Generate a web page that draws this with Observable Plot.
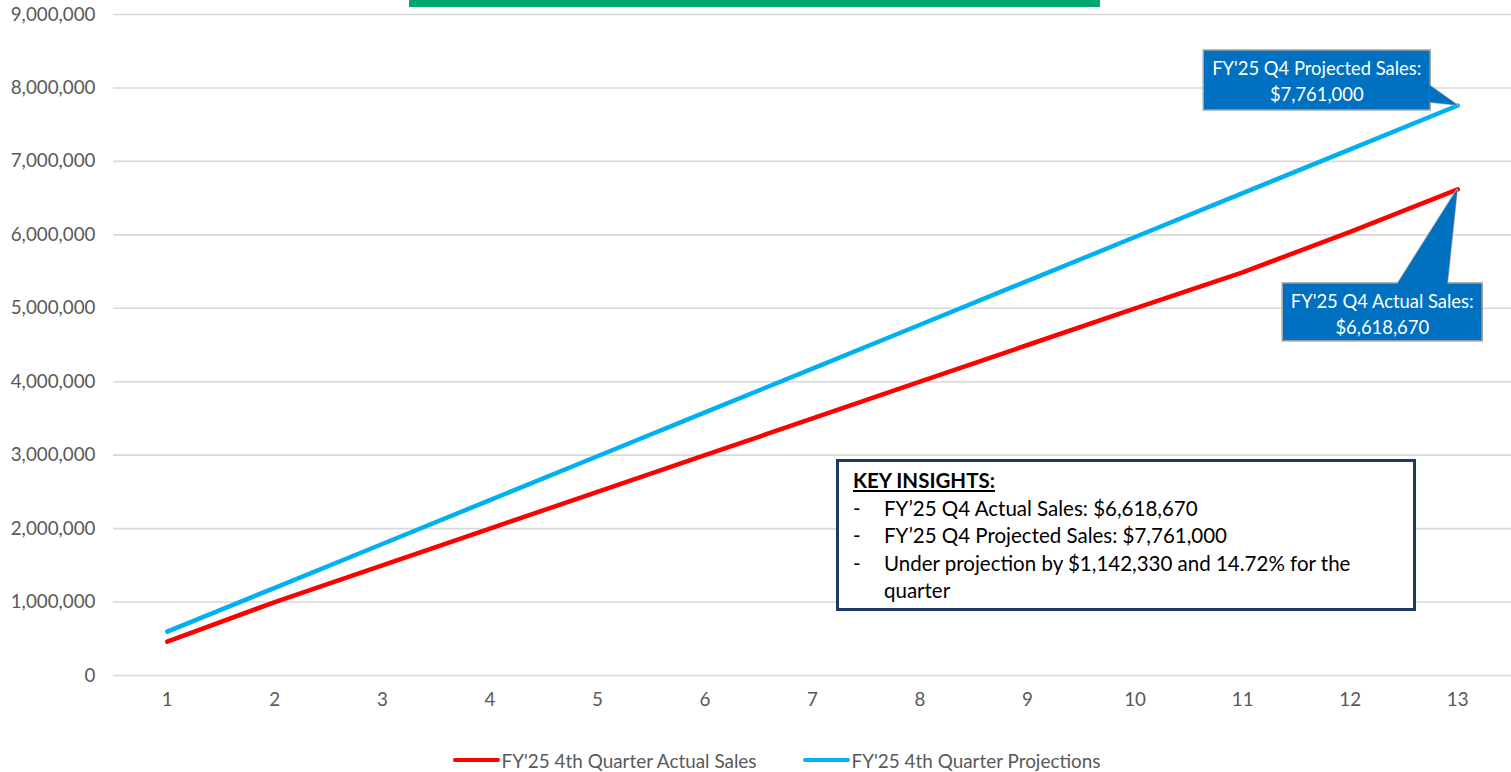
<!DOCTYPE html>
<html><head><meta charset="utf-8">
<script src="https://cdn.jsdelivr.net/npm/d3@7"></script>
<script src="https://cdn.jsdelivr.net/npm/@observablehq/plot@0.6"></script>
<style>
body{margin:0;background:#fff;font-family:Lato,"Open Sans",sans-serif;}
#wrap{position:relative;width:1511px;height:772px;overflow:hidden;background:#fff;}
#titlebar{position:absolute;left:409px;top:0;width:691px;height:7px;background:#00A870;}
#insights{position:absolute;left:836px;top:459px;width:580px;height:152px;box-sizing:border-box;border:3px solid #1F3864;background:#fff;padding:5px 0 0 14px;font-size:20.5px;line-height:27.5px;color:#000;}
#insights .h{font-weight:bold;text-decoration:underline;}
#insights .li{display:flex;}
#insights .li .d{width:31px;flex:none;}
#legend{display:flex;justify-content:center;align-items:center;height:32px;margin-top:4px;font-size:18.9px;color:#595959;gap:46px;padding-left:42px;}
#legend .item{display:flex;align-items:center;}
#legend .sw{width:47px;height:4px;border-radius:2px;margin-right:2px;}
</style></head><body>
<div id="wrap">
  <div id="chart"></div>
  <div id="legend"></div>
  <div id="titlebar"></div>
  <div id="insights"></div>
</div>
<script>
const weeks = [1,2,3,4,5,6,7,8,9,10,11,12,13];
const actualSales = [460000,1000000,1500000,2000000,2500000,3000000,3500000,4000000,4500000,5000000,5490000,6040000,6618670];
const projectedSales = [597000,1194000,1791000,2388000,2985000,3582000,4179000,4776000,5373000,5970000,6567000,7164000,7761000];
const yTicks = [0,1000000,2000000,3000000,4000000,5000000,6000000,7000000,8000000,9000000];
const seriesNames = ["FY'25 4th Quarter Actual Sales","FY'25 4th Quarter Projections"];
const seriesColors = ["#FF0000","#00B0F0"];
const calloutProjected = ["FY'25 Q4 Projected Sales:","$7,761,000"];
const calloutActual = ["FY'25 Q4 Actual Sales:","$6,618,670"];
const insightTitle = "KEY INSIGHTS:";
const insightLines = ["FY\u201925 Q4 Actual Sales: $6,618,670","FY\u201925 Q4 Projected Sales: $7,761,000","Under projection by $1,142,330 and 14.72% for the quarter"];

const data = weeks.flatMap((w,i)=>[
  {week:w, value:actualSales[i], series:seriesNames[0]},
  {week:w, value:projectedSales[i], series:seriesNames[1]}
]);

const fmt = d3.format(",");
const plot = Plot.plot({
  width:1511, height:740,
  marginLeft:113, marginRight:0, marginTop:14, marginBottom:65,
  x:{domain:[0.5,13.5]},
  y:{domain:[0,9000000]},
  color:{domain:seriesNames, range:seriesColors},
  style:{fontFamily:"Lato, 'Open Sans', sans-serif", fontSize:"18.8px", color:"#595959", background:"transparent"},
  marks:[
    Plot.ruleY(yTicks,{stroke:"#d9d9d9", strokeWidth:1.6}),
    Plot.axisY({ticks:yTicks, tickSize:0, tickPadding:18, tickFormat:fmt, label:null}),
    Plot.axisX({ticks:weeks, tickSize:0, tickPadding:17, tickFormat:d=>String(d), label:null}),
    Plot.line(data,{x:"week", y:"value", stroke:"series", z:"series", strokeWidth:4.5, strokeLinecap:"round", strokeLinejoin:"round"})
  ]
});
document.getElementById("chart").appendChild(plot);

// callouts anchored to the last data points
const xs = plot.scale("x"), ys = plot.scale("y");
const svg = d3.select(plot);
const g = svg.append("g");
function callout(px, py, box, pointer, lines){
  const [x0,y0,x1,y1] = box;
  const grp = g.append("g");
  grp.append("polygon").attr("points", pointer.map(p=>p.join(",")).join(" "))
    .attr("fill","#0070C0").attr("stroke","#a6a6a6").attr("stroke-width",1.5);
  grp.append("rect").attr("x",x0).attr("y",y0).attr("width",x1-x0).attr("height",y1-y0)
    .attr("fill","#0070C0").attr("stroke","#a6a6a6").attr("stroke-width",1.5);
  grp.append("polygon").attr("points", pointer.map(p=>p.join(",")).join(" ")).attr("fill","#0070C0");
  const cx=(x0+x1)/2;
  lines.forEach((t,i)=>{
    grp.append("text").attr("x",cx).attr("y",y0+25+i*26).attr("text-anchor","middle")
      .attr("fill","#fff").attr("font-size","18.4px").attr("font-family","Lato, 'Open Sans', sans-serif").text(t);
  });
}
{
  const px = xs.apply(13), py = ys.apply(projectedSales[12]);
  callout(px,py,[px-254,py-55,px-27,py+5],[[px-28,py-20],[px,py],[px-28,py-3]],calloutProjected);
}
{
  const px = xs.apply(13), py = ys.apply(actualSales[12]);
  callout(px,py,[px-175,py+94,px+25,py+152],[[px-60,py+95],[px,py],[px-10,py+95]],calloutActual);
}

// legend
const leg = d3.select("#legend");
seriesNames.forEach((n,i)=>{
  const it = leg.append("div").attr("class","item");
  it.append("div").attr("class","sw").style("background",seriesColors[i]);
  it.append("span").text(n);
});

// insights
const ins = d3.select("#insights");
ins.append("div").attr("class","h").text(insightTitle);
insightLines.forEach(t=>{
  const li = ins.append("div").attr("class","li");
  li.append("span").attr("class","d").text("-");
  li.append("span").text(t);
});
</script>
</body></html>
